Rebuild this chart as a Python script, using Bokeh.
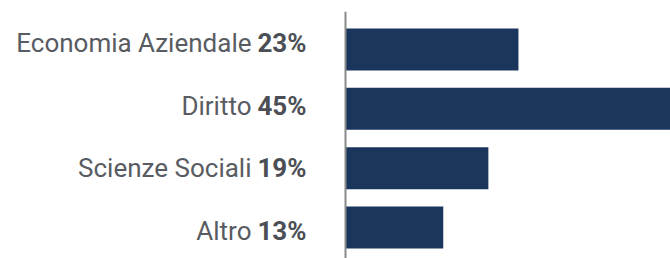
from bokeh.plotting import figure
from bokeh.models import ColumnDataSource, Range1d, Span
from bokeh.core.properties import value
from bokeh.embed import file_html
from bokeh.resources import INLINE

categories = ["Economia Aziendale", "Diritto", "Scienze Sociali", "Altro"]
values = [23, 45, 19, 13]
pct_labels = ["23%", "45%", "19%", "13%"]

idx = list(range(len(categories)))
src = ColumnDataSource(dict(y=idx, v=values, name=categories, pct=pct_labels, zero=[0] * len(idx)))

p = figure(width=670, height=258, output_backend="svg", toolbar_location=None,
           x_range=Range1d(-45.88, 43.22), y_range=Range1d(3.523, -0.641),
           min_border_left=0, min_border_right=0, min_border_top=11, min_border_bottom=0)
p.extra_y_ranges = {"labels": Range1d(3.442, -0.503)}
p.outline_line_color = None
p.background_fill_color = "white"
p.grid.visible = False
p.xaxis.visible = False
p.yaxis.visible = False

p.hbar(y="y", right="v", left=0, height=0.708, source=src,
       fill_color="#1a365d", line_color=None)
p.add_layout(Span(location=0, dimension="height", line_color="#8a8a8a", line_width=2))

p.text(x="zero", y="y", text="pct", source=src, y_range_name="labels",
       x_offset=-39, text_align="right", text_baseline="middle",
       text_font=value("Roboto"), text_font_style="bold", text_font_size="26px",
       text_color="#4b4f55")
p.text(x="zero", y="y", text="name", source=src, y_range_name="labels",
       x_offset=-94, text_align="right", text_baseline="middle",
       text_font=value("Roboto"), text_font_size="26px", text_color="#585c62")

open("out.html", "w").write(file_html(p, INLINE))
